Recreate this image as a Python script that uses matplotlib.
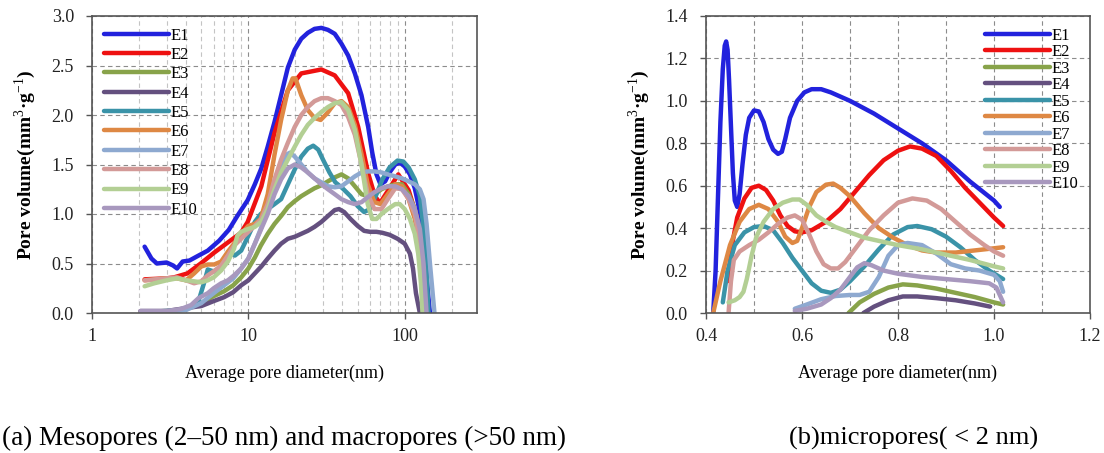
import matplotlib
matplotlib.use("Agg")
import matplotlib.pyplot as plt
from matplotlib.ticker import LogLocator, MultipleLocator, FixedLocator, NullFormatter

plt.rcParams['font.family'] = ['Liberation Serif', 'DejaVu Serif']
plt.rcParams['mathtext.fontset'] = 'custom'
plt.rcParams['mathtext.rm'] = 'Liberation Serif'
plt.rcParams['mathtext.bf'] = 'Liberation Serif:bold'

labels = ['E1', 'E2', 'E3', 'E4', 'E5', 'E6', 'E7', 'E8', 'E9', 'E10']
colors = ['#2222DD', '#EE1111', '#88A34A', '#64507F', '#3A93A8',
          '#DE8844', '#8EA9D0', '#D39A98', '#B3CF94', '#A898BE']

# (a) meso/macropores, x in nm (log axis)
meso_x = [
    [2.17, 2.4, 2.6, 3.0, 3.3, 3.5, 3.8, 4.2, 4.8, 5.5, 6.5, 7.5, 8.5, 9.9, 11, 12.1, 13.3, 14.7, 16.2, 17.9, 19.8,
     21.8, 24, 26.5, 29.3, 32.3, 35.7, 39.4, 43.5, 48, 52.9, 58.4, 62, 66, 70, 75, 80, 87, 93, 100, 108, 116, 122,
     129, 135, 140, 145],
    [2.17, 3.0, 3.35, 4.08, 4.96, 6.05, 7.36, 8.97, 9.9, 12.1, 14.7, 17.9, 21.8, 29.3, 35.7, 43.5, 50.4, 58.4, 64.5,
     69.5, 78.5, 91, 106, 119, 129, 135],
    [2.04, 3, 4, 5, 6, 7, 8, 9, 10, 11, 12, 13.3, 14.7, 16.2, 17.9, 19.8, 21.8, 24, 26.5, 29.3, 32.3, 35.7, 39.4,
     43.5, 48, 52.9, 58.4, 64.5, 71, 78.5, 87, 96, 106, 116, 122, 129, 135],
    [2.04, 3, 4, 5, 6, 7, 8, 9, 10, 11, 12.1, 13.3, 14.7, 16.2, 17.9, 19.8, 21.8, 24, 26.5, 29.3, 32.3, 35.7, 38,
     41, 45, 50, 55, 60, 66, 72, 80, 90, 100, 108, 113, 118, 125],
    [2.1, 3, 3.7, 4.3, 4.8, 5.2, 5.5, 6, 6.5, 7, 7.5, 8.2, 9, 10, 11, 12, 13.3, 14.7, 16.2, 17.9, 19.8, 21.8, 24,
     26, 28, 30, 33, 36, 40, 45, 50, 55, 60, 66, 72, 80, 90, 98, 106, 116, 125, 132, 138, 142],
    [2.17, 3, 3.5, 4, 4.5, 5, 5.5, 6.05, 6.7, 7.4, 8.1, 9, 10, 11, 12, 13.3, 14.7, 16.2, 17.9, 19.2, 20, 21.8, 24,
     26.5, 29, 32, 35.7, 39.4, 43.5, 48, 53, 58, 64, 70, 78, 87, 96, 106, 116, 122, 129, 133],
    [2.1, 3, 4, 5, 6, 7, 8, 9, 10, 11, 12, 13.3, 14.7, 16.2, 17.5, 18.5, 19.8, 21.8, 24, 26.5, 29.3, 32.3, 35.7,
     39.4, 43.5, 48, 53, 58, 64, 71, 78, 87, 96, 106, 116, 125, 132, 138, 145, 155],
    [2.17, 3, 3.5, 4, 4.5, 5, 5.5, 6, 6.7, 7.4, 8.1, 9, 10, 11, 12.1, 13.3, 14.7, 16.2, 17.9, 19.8, 21.8, 24, 26.5,
     29.3, 32.3, 35.7, 39.4, 43.5, 48, 53, 58, 64, 71, 78, 87, 96, 106, 116, 122, 129, 133],
    [2.17, 2.5, 3, 3.5, 4, 4.5, 5, 5.5, 6, 6.7, 7.4, 8.1, 8.5, 9, 10, 11, 12.1, 13.3, 14.7, 16.2, 17.9, 19.8, 21.8,
     24, 26.5, 29.3, 32.3, 35.7, 39.4, 43.5, 48, 52.9, 58, 62, 66, 71, 78, 87, 93, 100, 108, 116, 122, 127, 130],
    [2.04, 3, 3.7, 4.3, 4.8, 5.5, 6, 6.7, 7.4, 8.1, 9, 10, 11, 12.1, 13.3, 14.7, 16.2, 17.9, 19.8, 21.8, 24, 26.5,
     29.3, 32.3, 35.7, 39.4, 43.5, 48, 53, 58, 64, 71, 78, 87, 96, 106, 116, 125, 132, 138],
]
meso_y = [
    [0.67, 0.55, 0.50, 0.51, 0.48, 0.45, 0.52, 0.53, 0.58, 0.63, 0.73, 0.84, 0.98, 1.14, 1.30, 1.46, 1.68, 1.93,
     2.20, 2.48, 2.66, 2.77, 2.83, 2.87, 2.88, 2.86, 2.82, 2.72, 2.60, 2.42, 2.20, 1.88, 1.62, 1.40, 1.30, 1.33,
     1.42, 1.50, 1.52, 1.48, 1.40, 1.26, 1.10, 0.90, 0.60, 0.25, 0.0],
    [0.34, 0.35, 0.36, 0.40, 0.50, 0.61, 0.71, 0.81, 0.92, 1.28, 1.82, 2.25, 2.42, 2.46, 2.40, 2.22, 1.88, 1.41,
     1.18, 1.11, 1.24, 1.40, 1.24, 0.98, 0.64, 0.0],
    [0.01, 0.02, 0.04, 0.10, 0.17, 0.22, 0.28, 0.36, 0.45, 0.56, 0.68, 0.80, 0.90, 0.98, 1.07, 1.13, 1.18, 1.22,
     1.26, 1.29, 1.33, 1.37, 1.40, 1.36, 1.28, 1.20, 1.18, 1.20, 1.25, 1.28, 1.30, 1.30, 1.20, 1.05, 0.88, 0.60,
     0.0],
    [0.02, 0.02, 0.05, 0.07, 0.12, 0.16, 0.21, 0.28, 0.33, 0.40, 0.47, 0.55, 0.63, 0.70, 0.75, 0.77, 0.80, 0.83,
     0.87, 0.92, 0.98, 1.04, 1.05, 1.02, 0.95, 0.88, 0.83, 0.82, 0.82, 0.81, 0.79, 0.75, 0.70, 0.60, 0.45, 0.20,
     0.0],
    [0.01, 0.02, 0.03, 0.06, 0.12, 0.30, 0.44, 0.42, 0.45, 0.55, 0.62, 0.58, 0.63, 0.78, 0.92, 1.00, 1.05, 1.10,
     1.15, 1.30, 1.45, 1.58, 1.66, 1.69, 1.65, 1.55, 1.42, 1.32, 1.26, 1.18, 1.08, 1.02, 1.05, 1.20, 1.35, 1.47,
     1.54, 1.53, 1.47, 1.35, 1.18, 0.85, 0.40, 0.0],
    [0.33, 0.35, 0.35, 0.33, 0.40, 0.47, 0.49, 0.49, 0.52, 0.62, 0.70, 0.80, 0.88, 0.90, 0.95, 1.20, 1.60, 1.95,
     2.25, 2.37, 2.37, 2.20, 2.05, 1.97, 1.95, 2.02, 2.12, 2.14, 2.08, 1.90, 1.60, 1.30, 1.12, 1.10, 1.20, 1.30,
     1.28, 1.15, 0.95, 0.75, 0.40, 0.0],
    [0.01, 0.02, 0.03, 0.10, 0.20, 0.28, 0.35, 0.45, 0.55, 0.70, 0.85, 1.05, 1.30, 1.50, 1.60, 1.62, 1.58, 1.50,
     1.42, 1.36, 1.32, 1.28, 1.27, 1.28, 1.33, 1.38, 1.42, 1.43, 1.43, 1.42, 1.40, 1.38, 1.36, 1.33, 1.30, 1.25,
     1.15, 0.90, 0.50, 0.0],
    [0.33, 0.35, 0.36, 0.33, 0.30, 0.32, 0.38, 0.42, 0.48, 0.58, 0.68, 0.75, 0.82, 0.88, 0.95, 1.10, 1.35, 1.55,
     1.72, 1.88, 2.00, 2.08, 2.14, 2.17, 2.17, 2.14, 2.10, 1.98, 1.80, 1.50, 1.20, 1.05, 1.05, 1.15, 1.26, 1.25,
     1.15, 1.00, 0.80, 0.45, 0.0],
    [0.27, 0.30, 0.33, 0.35, 0.33, 0.32, 0.31, 0.33, 0.36, 0.43, 0.52, 0.65, 0.78, 0.82, 0.85, 0.87, 0.92, 1.05,
     1.25, 1.42, 1.55, 1.68, 1.80, 1.90, 1.97, 2.03, 2.08, 2.12, 2.13, 2.05, 1.85, 1.50, 1.10, 0.95, 0.95, 1.00,
     1.05, 1.10, 1.10, 1.05, 0.95, 0.80, 0.60, 0.30, 0.0],
    [0.02, 0.02, 0.04, 0.08, 0.15, 0.20, 0.25, 0.30, 0.33, 0.38, 0.45, 0.55, 0.70, 0.85, 1.00, 1.20, 1.35, 1.46,
     1.50, 1.47, 1.42, 1.36, 1.30, 1.25, 1.20, 1.15, 1.12, 1.10, 1.12, 1.17, 1.22, 1.26, 1.28, 1.28, 1.25, 1.18,
     1.05, 0.85, 0.50, 0.0],
]

# (b) micropores, x in nm (linear axis)
micro_x = [
    [0.415, 0.42, 0.425, 0.43, 0.435, 0.439, 0.442, 0.445, 0.448, 0.452, 0.456, 0.46, 0.465, 0.47, 0.476, 0.483,
     0.49, 0.5, 0.51, 0.52, 0.53, 0.54, 0.55, 0.558, 0.565, 0.575, 0.59, 0.605, 0.62, 0.64, 0.66, 0.7, 0.75, 0.8,
     0.85, 0.9, 0.95, 1.0, 1.012],
    [0.445, 0.455, 0.465, 0.48, 0.495, 0.51, 0.525, 0.54, 0.555, 0.57, 0.585, 0.6, 0.62, 0.65, 0.68, 0.71, 0.74,
     0.77, 0.8, 0.825, 0.85, 0.88, 0.91, 0.94, 0.97, 1.0, 1.019],
    [0.697, 0.72, 0.75, 0.78, 0.81, 0.84, 0.88, 0.92, 0.96, 1.0, 1.019],
    [0.728, 0.75, 0.78, 0.81, 0.84, 0.88, 0.92, 0.96, 0.992],
    [0.435, 0.445, 0.46, 0.48, 0.5, 0.52, 0.54, 0.56, 0.58, 0.6, 0.62, 0.64, 0.66, 0.68, 0.7, 0.73, 0.76, 0.79,
     0.82, 0.84, 0.87, 0.9, 0.93, 0.96, 0.99, 1.019],
    [0.415, 0.43, 0.45, 0.47, 0.49, 0.51, 0.53, 0.55, 0.565, 0.58, 0.59, 0.6, 0.615, 0.63, 0.65, 0.665, 0.68, 0.7,
     0.73, 0.76, 0.79, 0.82, 0.85, 0.88, 0.92, 0.96, 1.0, 1.019],
    [0.585, 0.61, 0.64, 0.67, 0.7, 0.72, 0.74, 0.76, 0.78, 0.8, 0.82, 0.85, 0.88, 0.91, 0.94, 0.97, 1.0, 1.012,
     1.019],
    [0.447, 0.452, 0.458, 0.47, 0.49, 0.51, 0.53, 0.55, 0.57, 0.585, 0.6, 0.615, 0.63, 0.645, 0.66, 0.675, 0.69,
     0.71, 0.74, 0.77, 0.8, 0.83, 0.86, 0.89, 0.92, 0.95, 0.98, 1.0, 1.019],
    [0.447, 0.46, 0.47, 0.478, 0.485, 0.495, 0.505, 0.52, 0.54, 0.56, 0.58, 0.595, 0.61, 0.63, 0.65, 0.67, 0.7,
     0.73, 0.76, 0.8, 0.85, 0.9, 0.95, 1.0, 1.019],
    [0.585, 0.61, 0.64, 0.66, 0.68, 0.7, 0.715, 0.73, 0.745, 0.77, 0.8, 0.85, 0.9, 0.95, 0.99, 1.005, 1.019],
]
micro_y = [
    [0.0, 0.2, 0.55, 0.9, 1.15, 1.26, 1.28, 1.24, 1.1, 0.88, 0.66, 0.53, 0.50, 0.56, 0.70, 0.84, 0.92, 0.955,
     0.95, 0.9, 0.82, 0.77, 0.75, 0.76, 0.82, 0.92, 1.0, 1.04, 1.055, 1.055, 1.04, 1.0, 0.94, 0.87, 0.8, 0.72,
     0.62, 0.53, 0.50],
    [0.15, 0.33, 0.45, 0.54, 0.59, 0.60, 0.58, 0.53, 0.46, 0.41, 0.385, 0.38, 0.39, 0.43, 0.49, 0.57, 0.65, 0.72,
     0.765, 0.785, 0.775, 0.74, 0.67, 0.59, 0.52, 0.45, 0.41],
    [0.0, 0.05, 0.09, 0.12, 0.135, 0.13, 0.115, 0.095, 0.075, 0.05, 0.04],
    [0.0, 0.03, 0.06, 0.078, 0.078, 0.07, 0.06, 0.045, 0.03],
    [0.05, 0.2, 0.32, 0.38, 0.405, 0.41, 0.39, 0.33, 0.26, 0.2, 0.14, 0.105, 0.095, 0.11, 0.15, 0.22, 0.30, 0.37,
     0.405, 0.41, 0.395, 0.36, 0.31, 0.25, 0.20, 0.16],
    [0.0, 0.15, 0.32, 0.43, 0.49, 0.51, 0.49, 0.43, 0.36, 0.33, 0.34, 0.40, 0.50, 0.57, 0.605, 0.61, 0.59, 0.55,
     0.47, 0.40, 0.355, 0.32, 0.295, 0.285, 0.285, 0.295, 0.305, 0.31],
    [0.02, 0.04, 0.065, 0.08, 0.085, 0.085, 0.10, 0.17, 0.27, 0.32, 0.33, 0.32, 0.28, 0.23, 0.21, 0.20, 0.18,
     0.15, 0.10],
    [0.0, 0.15, 0.25, 0.29, 0.32, 0.345, 0.38, 0.42, 0.45, 0.46, 0.44, 0.37, 0.29, 0.23, 0.21, 0.21, 0.24, 0.30,
     0.39, 0.46, 0.52, 0.54, 0.53, 0.49, 0.43, 0.37, 0.32, 0.29, 0.27],
    [0.05, 0.06, 0.075, 0.10, 0.16, 0.27, 0.36, 0.43, 0.49, 0.52, 0.535, 0.535, 0.51, 0.46, 0.43, 0.405, 0.38,
     0.355, 0.34, 0.32, 0.30, 0.275, 0.25, 0.22, 0.21],
    [0.01, 0.02, 0.04, 0.07, 0.11, 0.17, 0.215, 0.235, 0.225, 0.20, 0.185, 0.17, 0.16, 0.15, 0.14, 0.12, 0.05],
]

fig = plt.figure(figsize=(11.04, 4.53), dpi=100)
ax1 = fig.add_axes([92 / 1104, 1 - 313 / 453, (477 - 92) / 1104, 297 / 453])
ax2 = fig.add_axes([706 / 1104, 1 - 313 / 453, (1090 - 706) / 1104, 297 / 453])

for i in range(10):
    ax1.plot(meso_x[i], meso_y[i], color=colors[i], lw=3.2, label=labels[i],
             solid_capstyle='round', solid_joinstyle='round')
    ax2.plot(micro_x[i], micro_y[i], color=colors[i], lw=3.2, label=labels[i],
             solid_capstyle='round', solid_joinstyle='round')

ax1.set_xscale('log')
ax1.set_xlim(1, 290)
ax1.set_ylim(0, 3.0)
ax1.yaxis.set_major_locator(MultipleLocator(0.5))
ax1.xaxis.set_major_locator(FixedLocator([1, 10, 100]))
ax1.xaxis.set_major_formatter(matplotlib.ticker.FixedFormatter(['1', '10', '100']))
ax1.xaxis.set_minor_locator(LogLocator(base=10, subs=range(2, 10)))
ax1.xaxis.set_minor_formatter(NullFormatter())
ax1.yaxis.set_major_formatter(matplotlib.ticker.FormatStrFormatter('%.1f'))
ax1.grid(True, which='major', axis='both', ls=(0, (4, 3)), color='#8c8c8c', lw=0.8)
ax1.grid(True, which='minor', axis='x', ls=(0, (4, 3)), color='#c4c4c4', lw=0.8)

ax2.set_xlim(0.4, 1.2)
ax2.set_ylim(0, 1.4)
ax2.xaxis.set_major_locator(MultipleLocator(0.2))
ax2.xaxis.set_minor_locator(MultipleLocator(0.1))
ax2.yaxis.set_major_locator(MultipleLocator(0.2))
ax2.xaxis.set_major_formatter(matplotlib.ticker.FormatStrFormatter('%.1f'))
ax2.yaxis.set_major_formatter(matplotlib.ticker.FormatStrFormatter('%.1f'))
ax2.grid(True, which='both', axis='x', ls=(0, (4, 3)), color='#8c8c8c', lw=0.8)
ax2.grid(True, which='major', axis='y', ls=(0, (4, 3)), color='#8c8c8c', lw=0.8)

ylab = 'Pore volume(mm$^{3}$·g$^{-1}$)'
for ax in (ax1, ax2):
    ax.set_axisbelow(True)
    for s in ax.spines.values():
        s.set_color('#555555')
        s.set_linewidth(1.2)
    ax.tick_params(which='major', direction='out', length=4, width=1, color='#555555',
                   labelsize=13, labelcolor='#222222')
    ax.tick_params(axis='y', pad=9)
    ax.tick_params(axis='x', pad=7)
    ax.tick_params(which='minor', length=0)
    ax.set_xlabel('Average pore diameter(nm)', fontsize=13, labelpad=14)
    ax.set_ylabel(ylab, fontsize=14, fontweight='bold', labelpad=10)

ax1.legend(loc='upper left', bbox_to_anchor=(0.0, 1.0), frameon=False, fontsize=12,
           handlelength=3.9, handletextpad=0.1, labelspacing=0.2, borderaxespad=0.3)
ax2.legend(loc='upper right', bbox_to_anchor=(1.0, 1.0), frameon=False, fontsize=12,
           handlelength=3.9, handletextpad=0.1, labelspacing=0.03, borderaxespad=0.3)

fig.text(0.002, 1 - 438 / 453, '(a) Mesopores (2–50 nm) and macropores (>50 nm)', fontsize=19.5,
         ha='left', va='center')
fig.text(914 / 1104, 1 - 438 / 453, '(b)micropores( < 2 nm)', fontsize=19, ha='center', va='center')

fig.savefig('out.png', dpi=100)
